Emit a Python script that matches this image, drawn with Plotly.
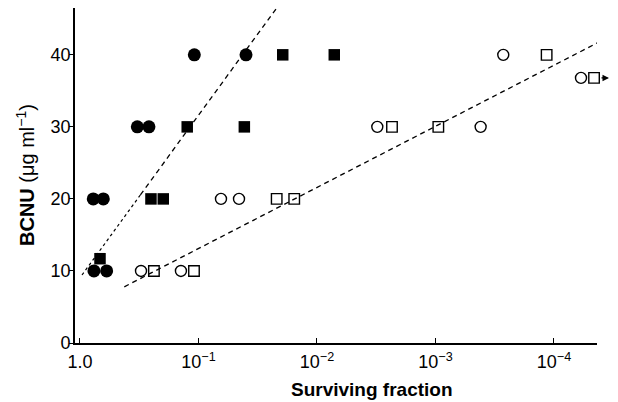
import plotly.graph_objects as go

# ---- data (surviving fraction as log10 values, BCNU dose in ug/ml) ----
filled_circle_logsf = [-0.118, -0.225, -0.112, -0.197, -0.484, -0.582, -0.965, -1.401]
filled_circle_dose = [10, 10, 20, 20, 30, 30, 40, 40]

filled_square_logsf = [-0.169, -0.599, -0.703, -0.905, -1.387, -1.711, -2.146]
filled_square_dose = [11.7, 20, 20, 30, 30, 40, 40]

open_circle_logsf = [-0.515, -0.852, -1.190, -1.342, -2.509, -3.381, -3.572, -4.228]
open_circle_dose = [10, 10, 20, 20, 30, 30, 40, 36.8]

open_square_logsf = [-0.624, -0.962, -1.660, -1.808, -2.633, -3.024, -3.938, -4.338]
open_square_dose = [10, 10, 20, 20, 30, 30, 40, 36.8]

# fitted lines (endpoints)
line1_dotted_logsf = [-0.017, -0.510]
line1_dotted_dose = [9.44, 20.56]
line1_dashed_logsf = [-0.510, -1.660]
line1_dashed_dose = [20.56, 46.5]
line2_logsf = [-0.374, -4.371]
line2_dose = [7.8, 41.7]

x_tick_vals = [1, 1e-1, 1e-2, 1e-3, 1e-4]
x_tick_text = ["1.0", "10<sup>−1</sup>", "10<sup>−2</sup>", "10<sup>−3</sup>", "10<sup>−4</sup>"]
y_tick_vals = [0, 10, 20, 30, 40]

FONT = "Liberation Sans, Arial, Helvetica, sans-serif"


def sf(logs):
    return [10 ** v for v in logs]


fig = go.Figure()

fig.add_trace(go.Scatter(x=sf(line1_dotted_logsf), y=line1_dotted_dose, mode="lines",
                         line=dict(color="black", width=1.2, dash="dot")))
fig.add_trace(go.Scatter(x=sf(line1_dashed_logsf), y=line1_dashed_dose, mode="lines",
                         line=dict(color="black", width=1.3, dash="5px,4px")))
fig.add_trace(go.Scatter(x=sf(line2_logsf), y=line2_dose, mode="lines",
                         line=dict(color="black", width=1.3, dash="5px,4px"), cliponaxis=False))

fig.add_trace(go.Scatter(x=sf(filled_circle_logsf), y=filled_circle_dose, mode="markers",
                         marker=dict(symbol="circle", size=13, color="black", line=dict(width=0))))
fig.add_trace(go.Scatter(x=sf(filled_square_logsf), y=filled_square_dose, mode="markers",
                         marker=dict(symbol="square", size=11.5, color="black", line=dict(width=0))))
fig.add_trace(go.Scatter(x=sf(open_circle_logsf), y=open_circle_dose, mode="markers",
                         marker=dict(symbol="circle-open", size=11, color="black", line=dict(width=1.4))))
fig.add_trace(go.Scatter(x=sf(open_square_logsf), y=open_square_dose, mode="markers",
                         marker=dict(symbol="square-open", size=10.5, color="black", line=dict(width=1.4)),
                         cliponaxis=False))

W, H = 618, 402
ml, mr, mt, mb = 75, 21, 8, 59
pw, ph = W - ml - mr, H - mt - mb

# arrow after last open square (value is an upper bound); placed just outside the axis end
fig.add_annotation(x=609, y=open_square_dose[-1], xref="paper", yref="y", ax=-9, ay=0,
                   text="", showarrow=True, arrowhead=2, arrowsize=1.0, arrowwidth=1.3,
                   arrowcolor="black")

# axis titles
fig.add_annotation(x=372, y=389, xref="paper", yref="paper", text="<b>Surviving fraction</b>",
                   showarrow=False, font=dict(size=19, family=FONT, color="black"))
fig.add_annotation(x=26, y=175, xref="paper", yref="paper",
                   text="<b>BCNU</b> (μg ml<sup>−1</sup>)", textangle=-90,
                   showarrow=False, font=dict(size=20, family=FONT, color="black"))

# convert paper annotations from pixels
for a in fig.layout.annotations:
    if a.xref == "paper":
        a.x = (a.x - ml) / pw
    if a.yref == "paper":
        a.y = 1 - (a.y - mt) / ph
        a.xanchor = "center"
        a.yanchor = "middle"

fig.update_layout(
    width=W, height=H, autosize=False,
    margin=dict(l=ml, r=mr, t=mt, b=mb),
    paper_bgcolor="white", plot_bgcolor="white",
    showlegend=False,
    font=dict(family=FONT, size=18, color="black"),
    xaxis=dict(type="log", range=[0.042, -4.363], tickvals=x_tick_vals, ticktext=x_tick_text,
               ticks="inside", ticklen=5, tickwidth=1.3, tickcolor="black",
               showline=True, linecolor="black", linewidth=1.6, showgrid=False, zeroline=False,
               tickfont=dict(size=18), ticklabelstandoff=2),
    yaxis=dict(range=[0, 46.5], tickvals=y_tick_vals, ticks="outside", ticklen=4, tickwidth=1.3,
               tickcolor="black", showline=True, linecolor="black", linewidth=1.6,
               showgrid=False, zeroline=False, tickfont=dict(size=18), ticklabelstandoff=-5),
)

fig.write_html("out.html", config={"displayModeBar": False},
               post_script="document.body.style.margin='0px';document.body.style.overflow='hidden';")
